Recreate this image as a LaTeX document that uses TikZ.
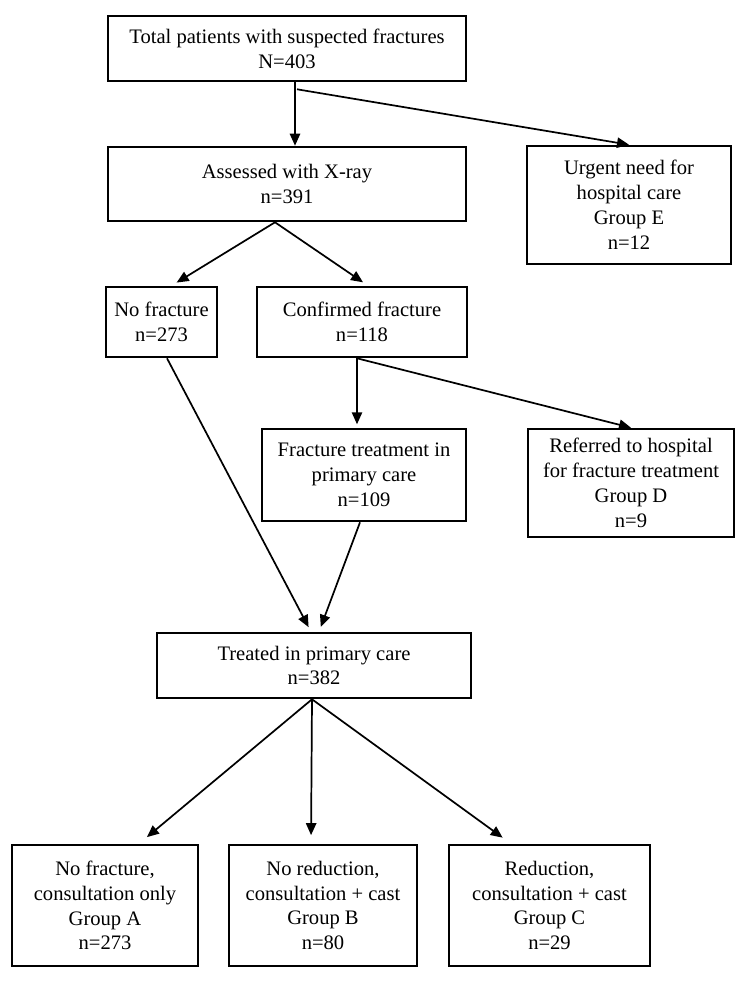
\documentclass[tikz,border=0pt]{standalone}
\usepackage{fontspec}
\setmainfont{Liberation Serif}
\usetikzlibrary{calc,arrows.meta,positioning}
\tikzset{
    block/.style = {draw, rectangle, line width=1.5pt,
        inner sep=0pt, align=center,
        font=\fontsize{12}{14.5}\selectfont},
    boxsize/.style 2 args = {minimum width=#1*0.583pt,
        minimum height=#2*0.583pt},
    arrow/.style = {draw, -{Triangle[length=7pt,width=6pt]}, line width=1pt}
}

\begin{document}
\begin{tikzpicture}[x=0.583pt, y=-0.583pt]
    \useasboundingbox (0,0) rectangle (744,983);
    \node [block, boxsize={358}{65}] (total) at (287,48.5)
        {Total patients with suspected fractures\\N=403};
    \node [block, boxsize={358}{74}] (assessed) at (287,184)
        {Assessed with X-ray\\n=391};
    \node [block, boxsize={204}{118}] (urgent) at (629,205)
        {Urgent need for\\hospital care\\Group E\\n=12};
    \node [block, boxsize={111}{70}] (nofrac) at (161.5,322)
        {No fracture\\n=273};
    \node [block, boxsize={210}{70}] (confirmed) at (362,322)
        {Confirmed fracture\\n=118};
    \node [block, boxsize={204}{92}] (fractreat) at (364,475)
        {Fracture treatment in\\primary care\\n=109};
    \node [block, boxsize={206}{108}] (referred) at (631,483)
        {Referred to hospital\\for fracture treatment\\Group D\\n=9};
    \node [block, boxsize={314}{65}] (treated) at (314,665.5)
        {Treated in primary care\\n=382};
    \node [block, boxsize={186}{121}] (groupa) at (105,905.5)
        {No fracture,\\consultation only\\Group A\\n=273};
    \node [block, boxsize={188}{121}] (groupb) at (323,905.5)
        {No reduction,\\consultation + cast\\Group B\\n=80};
    \node [block, boxsize={201}{121}] (groupc) at (549.5,905.5)
        {Reduction,\\consultation + cast\\Group C\\n=29};

    \draw [arrow] ($(total.south)+(8,0)$) -- ($(assessed.north)+(8,0)$);
    \draw [arrow] ($(total.south)+(10,7)$) -- (urgent.north);
    \draw [arrow, shorten >=3.5pt] ($(assessed.south)+(-12,0)$) -- ($(nofrac.north)+(10,0)$);
    \draw [arrow, shorten >=3.5pt] ($(assessed.south)+(-12,0)$) -- ($(confirmed.north)+(6,0)$);
    \draw [arrow, shorten >=2pt] ($(confirmed.south)+(-5,0)$) -- ($(fractreat.north)+(-7,0)$);
    \draw [arrow] ($(confirmed.south)+(-5,0)$) -- (referred.north);
    \draw [arrow, shorten >=3pt] ($(nofrac.south)+(5.5,0)$) -- ($(treated.north)+(-3,0)$);
    \draw [arrow, shorten >=3pt] ($(fractreat.south)+(-4,0)$) -- ($(treated.north)+(5,0)$);
    \draw [arrow, shorten >=6pt] ($(treated.south)+(-2,0)$) -- ($(groupa.north)+(34,0)$);
    \draw [arrow, shorten >=5pt] ($(treated.south)+(-2,0)$) -- ($(groupb.north)+(-12,0)$);
    \draw [arrow, shorten >=6pt] ($(treated.south)+(-2,0)$) -- ($(groupc.north)+(-38.5,0)$);
\end{tikzpicture}
\end{document}
